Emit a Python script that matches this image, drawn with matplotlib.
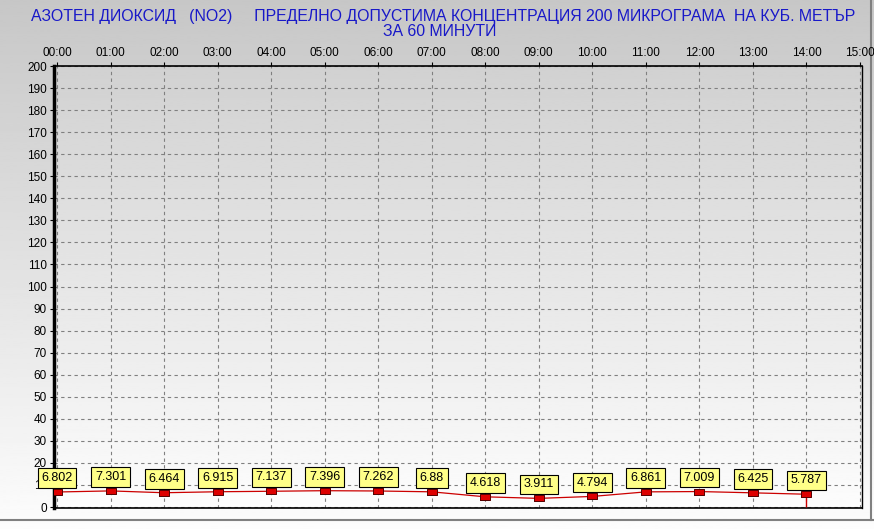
import numpy as np
import matplotlib.pyplot as plt

hours = ["00:00", "01:00", "02:00", "03:00", "04:00", "05:00", "06:00", "07:00",
         "08:00", "09:00", "10:00", "11:00", "12:00", "13:00", "14:00", "15:00"]
values = [6.802, 7.301, 6.464, 6.915, 7.137, 7.396, 7.262, 6.88,
          4.618, 3.911, 4.794, 6.861, 7.009, 6.425, 5.787]
labels = ["6.802", "7.301", "6.464", "6.915", "7.137", "7.396", "7.262", "6.88",
          "4.618", "3.911", "4.794", "6.861", "7.009", "6.425", "5.787"]
yticks = list(range(0, 201, 10))

plt.rcParams['font.family'] = ['Liberation Sans', 'DejaVu Sans']

W, H = 874, 529
fig = plt.figure(figsize=(W / 100, H / 100), dpi=100)

# background gradient over the whole figure
bg = fig.add_axes([0, 0, 1, 1], zorder=-10)
grad = np.linspace(0.78, 0.99, 256).reshape(-1, 1)
bg.imshow(grad, aspect='auto', cmap='gray', vmin=0, vmax=1, extent=[0, 1, 0, 1])
bg.axhline(1 - 520 / H, color='#808080', lw=1.5)
bg.axvline(1 - 3 / W, color='#808080', lw=1.5, ymin=1 - 520 / H)
bg.set_xlim(0, 1)
bg.set_ylim(0, 1)
bg.axis('off')

left, right, top, bottom = 54, 862, 66, 508
ax = fig.add_axes([left / W, 1 - bottom / H, (right - left) / W, (bottom - top) / H])
ax.set_facecolor('none')

x = np.arange(len(values))
ax.set_xlim(-3 / 53.5, 15 + 2 / 53.5)
ax.set_ylim(-1 / 2.205, 200)

# plot area gradient
ax.imshow(np.linspace(0.82, 0.99, 256).reshape(-1, 1), aspect='auto', cmap='gray',
          vmin=0, vmax=1, extent=[ax.get_xlim()[0], ax.get_xlim()[1], ax.get_ylim()[0], ax.get_ylim()[1]],
          zorder=0)

ax.set_xticks(range(len(hours)))
ax.set_xticklabels(hours)
ax.set_yticks(yticks)
ax.xaxis.tick_top()
ax.tick_params(axis='both', labelsize=8.5, length=3, color='black', pad=2)
ax.grid(True, ls=(0, (3, 3)), color='#808080', lw=0.8, zorder=1)

for s in ['top', 'bottom']:
    ax.spines[s].set_linestyle((0, (2, 1)))
    ax.spines[s].set_linewidth(1.2)
ax.spines['left'].set_linewidth(2.5)
ax.spines['right'].set_linewidth(1)

rect = [(-1, -0.55), (1, -0.55), (1, 0.55), (-1, 0.55), (-1, -0.55)]
ax.plot(x, values, color='#cc0000', lw=0.9, zorder=3)
ax.vlines(x[-1], 0, values[-1], color='#cc0000', lw=1, zorder=3)
for xi, v, lab in zip(x, values, labels):
    ax.annotate(lab, (xi, v), xytext=(0, 10), textcoords='offset points',
                ha='center', va='center', fontsize=9, zorder=5,
                bbox=dict(boxstyle='square,pad=0.3', fc='#ffff88', ec='black', lw=0.8))
ax.plot(x, values, ls='none', marker=rect, ms=7.5, mfc='#dd0000', mec='#550000',
        mew=0.7, zorder=6)

fig.text(0.5 + 6 / W, 1 - 16 / H,
         "АЗОТЕН ДИОКСИД   (NO2)     ПРЕДЕЛНО ДОПУСТИМА КОНЦЕНТРАЦИЯ 200 МИКРОГРАМА  НА КУБ. МЕТЪР",
         ha='center', va='center', color='#1818c8', fontsize=11.4)
fig.text(0.5 + 3 / W, 1 - 32 / H, "ЗА 60 МИНУТИ", ha='center', va='center', color='#1818c8', fontsize=11.4)

fig.savefig('out.png', dpi=100)
